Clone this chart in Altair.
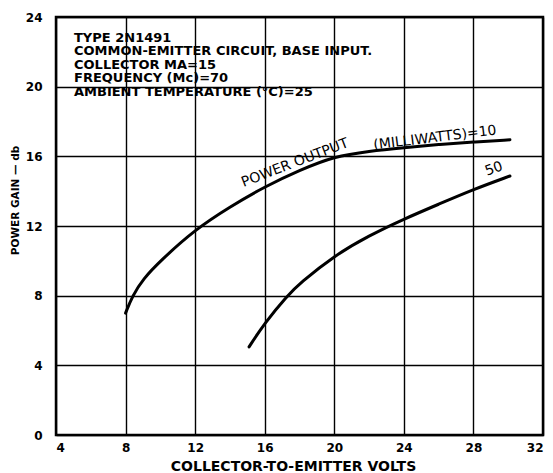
import altair as alt
import pandas as pd

# Curve data
x_10mw = [8.0, 8.4, 9.0, 10, 12, 14, 16, 18, 20, 22, 24, 26, 28, 30.1]
y_10mw = [7.0, 8.0, 8.95, 10.0, 11.8, 13.1, 14.26, 15.2, 16.0, 16.3, 16.5, 16.68, 16.82, 16.95]

x_50mw = [15.1, 16, 17.3, 18, 20, 22, 24, 26, 28, 30.1]
y_50mw = [5.06, 6.44, 8.0, 8.7, 10.3, 11.45, 12.4, 13.25, 14.1, 14.87]

x_ticks = [4, 8, 12, 16, 20, 24, 28, 32]
y_ticks = [0, 4, 8, 12, 16, 20, 24]

info_lines = [
    "TYPE 2N1491",
    "COMMON-EMITTER CIRCUIT, BASE INPUT.",
    "COLLECTOR MA=15",
    "FREQUENCY (Mc)=70",
    "AMBIENT TEMPERATURE (°C)=25",
]

df = pd.concat([
    pd.DataFrame({"v": x_10mw, "g": y_10mw, "s": "10"}),
    pd.DataFrame({"v": x_50mw, "g": y_50mw, "s": "50"}),
])

FONT = "DejaVu Sans"

lines = alt.Chart(df).mark_line(
    color="black", strokeWidth=3, interpolate="basis", strokeCap="round"
).encode(
    x=alt.X("v:Q", scale=alt.Scale(domain=[4, 32], nice=False, zero=False),
            axis=alt.Axis(values=x_ticks, title="COLLECTOR-TO-EMITTER VOLTS",
                          titleX=237, titleY=31, titleBaseline="middle",
                          labelPadding=7)),
    y=alt.Y("g:Q", scale=alt.Scale(domain=[0, 24], nice=False),
            axis=alt.Axis(values=y_ticks, title="POWER GAIN — db",
                          titleX=-41, titleY=183, titleAlign="center",
                          titleBaseline="middle", titleAngle=270,
                          labelPadding=14)),
    detail="s:N",
)

info = alt.Chart(pd.DataFrame({"t": info_lines, "i": list(range(len(info_lines)))})).mark_text(
    align="left", baseline="middle", font=FONT, fontSize=13, fontWeight="bold", color="black"
).encode(
    text="t:N",
    x=alt.value(18),
    y=alt.Y("i:Q", scale=alt.Scale(domain=[0, 4], range=[20.5, 74.5]), axis=None),
)

lab1 = alt.Chart(pd.DataFrame({"t": ["POWER OUTPUT"]})).mark_text(
    font=FONT, fontSize=14, angle=339, color="black", align="center", baseline="middle"
).encode(text="t:N", x=alt.value(239), y=alt.value(146))

lab2 = alt.Chart(pd.DataFrame({"t": ["(MILLIWATTS)=10"]})).mark_text(
    font=FONT, fontSize=14, angle=353, color="black", align="center", baseline="middle"
).encode(text="t:N", x=alt.value(379), y=alt.value(121))

lab3 = alt.Chart(pd.DataFrame({"t": ["50"]})).mark_text(
    font=FONT, fontSize=14, angle=340, color="black", align="center", baseline="middle"
).encode(text="t:N", x=alt.value(438), y=alt.value(152))

chart = alt.layer(lines, info, lab1, lab2, lab3).resolve_scale(y="independent").properties(
    width=487, height=418,
    autosize=alt.AutoSizeParams(type="none"),
    padding={"left": 56, "top": 17, "right": 10, "bottom": 38},
    background="white",
).configure_view(
    stroke="black", strokeWidth=2.5
).configure_axis(
    grid=True, gridColor="black", gridWidth=1.4, gridOpacity=1,
    domain=False, ticks=False,
    labelFont=FONT, labelFontSize=12, labelFontWeight="bold", labelColor="black",
    titleFont=FONT, titleFontSize=14, titleFontWeight="bold", titleColor="black",
).configure_axisY(
    labelAlign="right", labelBaseline="middle", titleFontSize=10.5,
)

chart.save("out.html", embed_options={"renderer": "svg", "actions": False})
